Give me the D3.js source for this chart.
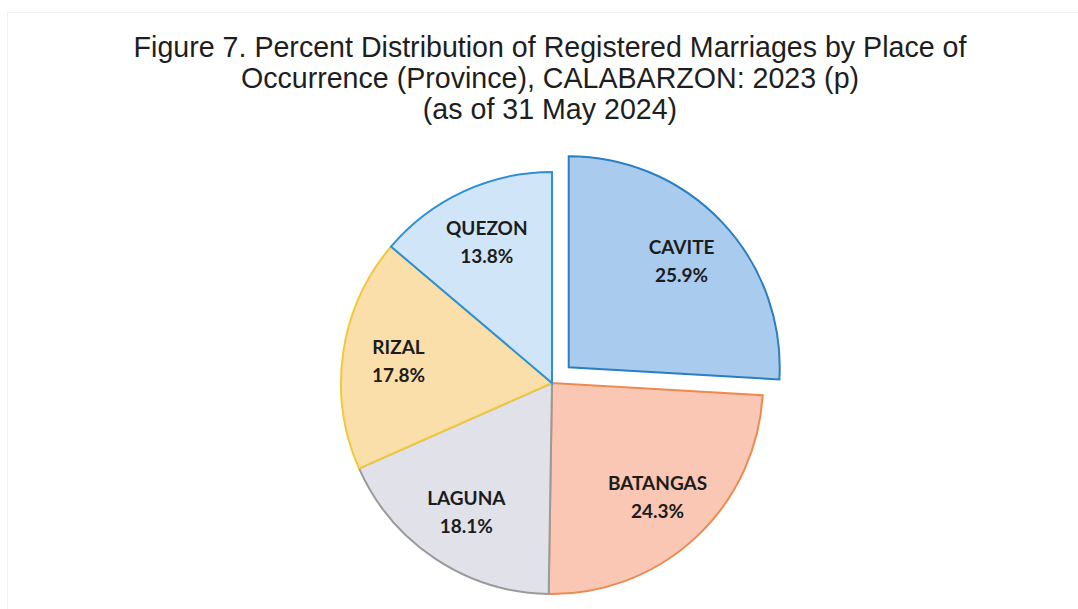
<!DOCTYPE html>
<html>
<head>
<meta charset="utf-8">
<script src="https://cdn.jsdelivr.net/npm/d3@7"></script>
<style>
  body { margin: 0; background: #fff; }
  svg { display: block; }
</style>
</head>
<body>
<svg id="chart"></svg>
<script>
// data
var provinces = ['CAVITE', 'BATANGAS', 'LAGUNA', 'RIZAL', 'QUEZON'];
var shares = [25.9, 24.3, 18.1, 17.8, 13.8];
var fills = ['#a9cbee', '#f9c7b4', '#e1e1ea', '#fbdfab', '#d0e6f8'];
var strokes = ['#2a7ec4', '#ef8a4e', '#9a9a9a', '#f0c93a', '#2d8fd5'];
var titleLines = [
  'Figure 7. Percent Distribution of Registered Marriages by Place of',
  'Occurrence (Province), CALABARZON: 2023 (p)',
  '(as of 31 May 2024)'
];

var width = 1078;
var height = 609;
var cx = 552, cy = 383;
var radius = 211;
var explode = 23;   // cavite pulled out

var svg = d3.select('#chart')
  .attr('width', width)
  .attr('height', height);

// faint frame from the scanned page
svg.append('path')
  .attr('d', 'M7.5,' + height + 'V12.5H' + width)
  .attr('fill', 'none')
  .attr('stroke', '#f2f2f2');

// title
svg.append('g').selectAll('text')
  .data(titleLines)
  .join('text')
  .attr('x', 550)
  .attr('y', function(d, i) { return 57 + i * 31; })
  .attr('text-anchor', 'middle')
  .attr('font-family', 'Liberation Sans, Arial, sans-serif')
  .attr('font-size', 28.6)
  .attr('fill', '#1e1e1e')
  .text(function(d) { return d; });

var data = provinces.map(function(p, i) {
  return { name: p, value: shares[i], fill: fills[i], stroke: strokes[i] };
});

var pie = d3.pie()
  .sort(null)
  .value(function(d) { return d.value; });

var arc = d3.arc()
  .innerRadius(0)
  .outerRadius(radius);

var labelArc = d3.arc()
  .innerRadius(radius * 0.735)
  .outerRadius(radius * 0.735);

var arcs = pie(data);

function offset(d, i) {
  if (i !== 0) return [0, 0];
  var mid = (d.startAngle + d.endAngle) / 2;
  return [Math.sin(mid) * explode, -Math.cos(mid) * explode];
}

var slices = svg.append('g')
  .attr('transform', 'translate(' + cx + ',' + cy + ')')
  .selectAll('g')
  .data(arcs)
  .join('g')
  .attr('transform', function(d, i) {
    var o = offset(d, i);
    return 'translate(' + o[0] + ',' + o[1] + ')';
  });

slices.append('path')
  .attr('d', arc)
  .attr('fill', function(d) { return d.data.fill; })
  .attr('stroke', function(d) { return d.data.stroke; })
  .attr('stroke-width', 2)
  .attr('stroke-linejoin', 'miter');

var labels = slices.append('text')
  .attr('transform', function(d) {
    var c = labelArc.centroid(d);
    return 'translate(' + c[0] + ',' + c[1] + ')';
  })
  .attr('text-anchor', 'middle')
  .attr('font-family', 'Lato, Carlito, sans-serif')
  .attr('font-weight', 'bold')
  .attr('font-size', 19)
  .attr('fill', '#1c1c1c');

labels.append('tspan')
  .attr('x', 0)
  .attr('y', -7)
  .text(function(d) { return d.data.name; });

labels.append('tspan')
  .attr('x', 0)
  .attr('y', 21)
  .text(function(d) { return d.data.value.toFixed(1) + '%'; });
</script>
</body>
</html>
